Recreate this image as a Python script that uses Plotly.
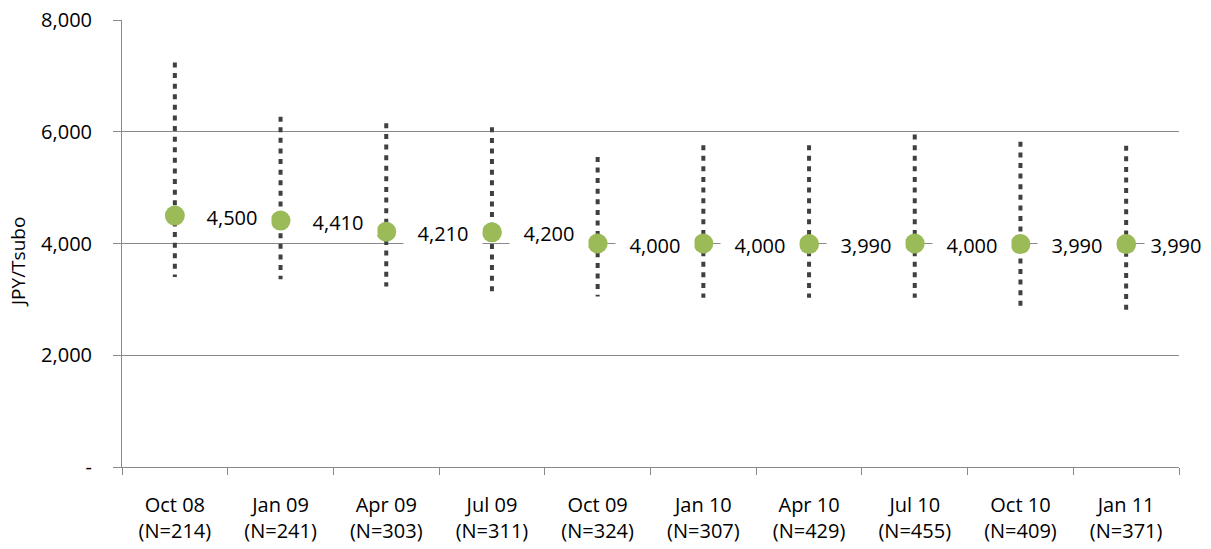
import plotly.graph_objects as go

categories = ["Oct 08<br>(N=214)", "Jan 09<br>(N=241)", "Apr 09<br>(N=303)", "Jul 09<br>(N=311)",
              "Oct 09<br>(N=324)", "Jan 10<br>(N=307)", "Apr 10<br>(N=429)", "Jul 10<br>(N=455)",
              "Oct 10<br>(N=409)", "Jan 11<br>(N=371)"]
values = [4500, 4410, 4210, 4200, 4000, 4000, 3990, 4000, 3990, 3990]
highs = [7240, 6270, 6150, 6080, 5550, 5760, 5760, 5950, 5820, 5750]
lows = [3400, 3360, 3230, 3050, 3050, 3030, 3030, 3030, 2790, 2720]
y_tickvals = [0, 2000, 4000, 6000, 8000]
y_ticktext = ["-", "2,000", "4,000", "6,000", "8,000"]
y_title = "JPY/Tsubo"

FONT = "Open Sans"
GRID = "#898989"

wx, wy = [], []
for c, h, l in zip(categories, highs, lows):
    wx += [c, c, None]
    wy += [h, l, None]

fig = go.Figure()
fig.add_trace(go.Scatter(
    x=wx, y=wy, mode="lines",
    line=dict(color="#404040", width=4, dash="5px,5.6px"),
    hoverinfo="skip", showlegend=False,
))
fig.add_trace(go.Scatter(
    x=categories, y=values, mode="markers",
    marker=dict(color="#9BBB59", size=20, line=dict(width=0)),
    showlegend=False,
))

n = len(categories)
for i, (c, v) in enumerate(zip(categories, values)):
    last = (i == n - 1)
    fig.add_annotation(
        x=c, y=v, xref="x", yref="y",
        text=f"{v:,}", showarrow=False,
        xshift=50 if last else 57, yshift=-1,
        width=60 if last else 76, height=24, bgcolor="white", borderpad=1,
        font=dict(family=FONT, size=20, color="#000000"),
    )

fig.add_annotation(
    x=0, y=0.4586, xref="paper", yref="paper",
    text=y_title, textangle=-90, showarrow=False,
    xshift=-104, xanchor="center", yanchor="middle", borderpad=0,
    font=dict(family=FONT, size=19, color="#000000"),
)

fig.update_layout(
    width=1211, height=549,
    margin=dict(l=122, r=32, t=20, b=82),
    paper_bgcolor="white", plot_bgcolor="white",
    font=dict(family=FONT, size=20, color="#000000"),
    showlegend=False,
)
fig.update_xaxes(
    type="category", range=[-0.5, 9.5], automargin=False,
    showline=True, linecolor=GRID, linewidth=1,
    ticks="outside", tickson="boundaries", ticklen=7, tickcolor=GRID, tickwidth=1,
    showgrid=False, zeroline=False,
    ticklabelstandoff=20,
    tickfont=dict(family=FONT, size=20, color="#000000"),
)
fig.update_yaxes(
    range=[0, 8000], tickvals=y_tickvals, ticktext=y_ticktext, automargin=False,
    showline=True, linecolor=GRID, linewidth=1,
    ticks="outside", ticklen=8, tickcolor=GRID, tickwidth=1,
    showgrid=True, gridcolor=GRID, gridwidth=1, zeroline=False,
    ticklabelstandoff=17, ticklabeloverflow="allow",
    tickfont=dict(family=FONT, size=20, color="#000000"),
)

fig.write_html("out.html", config={"displayModeBar": False},
               post_script='document.body.style.margin = "0";')
